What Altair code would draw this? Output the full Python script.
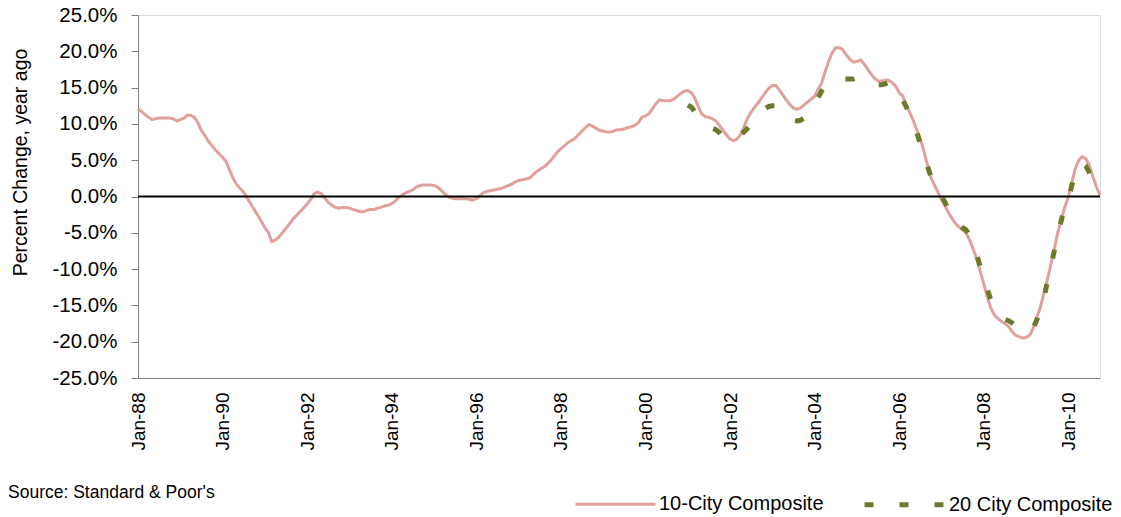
import altair as alt
import pandas as pd

# 10-City Composite, year-over-year % change, monthly Jan-1988 .. Oct-2010
city10 = [
    12.1, 11.7, 11.3, 10.9, 10.6, 10.7, 10.8, 10.8, 10.8, 10.8, 10.7, 10.4,   # 1988
    10.6, 10.8, 11.2, 11.2, 10.9, 10.2, 9.1, 8.4, 7.6, 7.0, 6.4, 5.9,         # 1989
    5.4, 4.8, 3.7, 2.5, 1.7, 1.1, 0.6, -0.2, -1.0, -1.8, -2.6, -3.4,          # 1990
    -4.3, -5.0, -6.2, -6.0, -5.6, -5.0, -4.4, -3.8, -3.1, -2.6, -2.1, -1.6,   # 1991
    -1.0, -0.4, 0.4, 0.6, 0.4, -0.2, -0.8, -1.2, -1.5, -1.6, -1.5, -1.5,      # 1992
    -1.6, -1.8, -1.9, -2.1, -2.1, -1.9, -1.8, -1.8, -1.6, -1.5, -1.3, -1.2,   # 1993
    -1.0, -0.6, -0.1, 0.2, 0.5, 0.7, 0.9, 1.3, 1.5, 1.6, 1.6, 1.6,            # 1994
    1.5, 1.3, 0.9, 0.4, 0.0, -0.2, -0.3, -0.3, -0.3, -0.3, -0.4, -0.5,        # 1995
    -0.3, 0.1, 0.5, 0.7, 0.8, 0.9, 1.0, 1.1, 1.3, 1.5, 1.7, 2.0,              # 1996
    2.2, 2.3, 2.4, 2.5, 2.9, 3.4, 3.7, 4.0, 4.4, 4.9, 5.5, 6.1,               # 1997
    6.6, 7.0, 7.4, 7.7, 8.0, 8.5, 9.0, 9.5, 9.9, 9.7, 9.4, 9.1,               # 1998
    9.0, 8.9, 8.9, 9.0, 9.2, 9.2, 9.3, 9.5, 9.6, 9.8, 10.2, 10.9,             # 1999
    11.1, 11.4, 12.1, 12.8, 13.3, 13.2, 13.2, 13.2, 13.4, 13.8, 14.2, 14.5,   # 2000
    14.6, 14.3, 13.6, 12.4, 11.4, 11.0, 10.9, 10.7, 10.4, 9.8, 9.1, 8.5,      # 2001
    7.9, 7.7, 7.9, 8.5, 9.6, 10.8, 11.6, 12.3, 12.9, 13.6, 14.3, 14.9,        # 2002
    15.3, 15.3, 14.7, 14.0, 13.3, 12.7, 12.2, 12.0, 12.2, 12.6, 13.0, 13.4,   # 2003
    13.8, 14.8, 15.6, 17.2, 18.6, 19.8, 20.5, 20.5, 20.2, 19.5, 18.9, 18.5,   # 2004
    18.6, 18.8, 18.3, 17.6, 16.9, 16.3, 15.9, 15.9, 16.0, 16.0, 15.7, 15.2,   # 2005
    14.3, 13.8, 12.6, 11.6, 10.5, 9.2, 8.0, 6.3, 4.4, 2.6, 1.6, 0.6,          # 2006
    -0.4, -1.3, -2.2, -3.0, -3.7, -4.2, -4.6, -5.0, -6.0, -7.2, -8.6, -10.3,  # 2007
    -12.0, -13.9, -15.3, -16.3, -16.8, -17.2, -17.5, -17.9, -18.6, -19.1, -19.3, -19.5,  # 2008
    -19.4, -19.1, -18.2, -16.8, -15.4, -13.5, -11.6, -9.5, -7.3, -5.0, -3.1, -1.5,       # 2009
    0.0, 2.0, 3.8, 5.0, 5.5, 5.2, 4.3, 2.7, 1.3, 0.2,                         # 2010
]

# 20 City Composite, monthly Jan-2001 .. Oct-2010
city20 = [
    12.6, 12.3, 11.7, 11.2, 10.6, 10.1, 9.7, 9.4, 9.2, 8.8, 8.2, 7.9,         # 2001
    7.8, 7.8, 8.1, 8.5, 8.9, 9.4, 10.0, 10.6, 11.2, 11.7, 12.1, 12.4,         # 2002
    12.5, 12.5, 12.2, 11.7, 11.2, 10.8, 10.5, 10.4, 10.5, 10.8, 11.3, 12.0,   # 2003
    12.8, 13.6, 14.5, 15.1, 15.5, 15.8, 16.0, 16.1, 16.2, 16.2, 16.2, 16.2,   # 2004
    16.4, 16.4, 16.2, 16.0, 15.8, 15.6, 15.4, 15.4, 15.5, 15.7, 15.6, 15.0,   # 2005
    14.1, 13.3, 12.4, 11.3, 10.1, 8.8, 7.3, 5.8, 4.2, 2.8, 1.6, 0.6,          # 2006
    0.0, -0.8, -1.8, -2.7, -3.4, -3.9, -4.3, -4.6, -5.4, -6.6, -8.0, -9.6,    # 2007
    -11.2, -12.8, -14.2, -15.3, -16.1, -16.6, -16.9, -17.1, -17.4, -17.8, -18.1, -18.4,  # 2008
    -18.6, -18.6, -18.2, -17.1, -15.8, -14.2, -11.9, -9.8, -7.5, -5.3, -3.3, -1.2,       # 2009
    -0.3, 1.6, 3.2, 4.2, 4.6, 4.2, 3.3, 2.1, 1.2, 0.5,                        # 2010
]

series_names = ["10-City Composite", "20 City Composite"]
start10 = "1988-01-01"
start20 = "2001-01-01"
tick_years = list(range(1988, 2011, 2))
y_ticks = [25, 20, 15, 10, 5, 0, -5, -10, -15, -20, -25]
source_text = "Source: Standard & Poor's"

d10 = pd.DataFrame({
    "date": pd.date_range(start10, periods=len(city10), freq="MS"),
    "value": city10,
    "series": series_names[0],
})
d20 = pd.DataFrame({
    "date": pd.date_range(start20, periods=len(city20), freq="MS"),
    "value": city20,
    "series": series_names[1],
})
df = pd.concat([d10, d20], ignore_index=True)
df["date"] = df["date"].dt.strftime("%Y-%m-%d")

FONT = "Arial, Liberation Sans"
tick_vals = [alt.DateTime(year=y, month=1, date=1) for y in tick_years]
y_scale = alt.Scale(domain=[-25, 25], nice=False)

x_enc = alt.X(
    "date:T",
    scale=alt.Scale(domain=[alt.DateTime(year=1988, month=1, date=1),
                            alt.DateTime(year=2010, month=10, date=1)], nice=False),
    axis=alt.Axis(values=tick_vals, format="%b-%y", labelAngle=270, title=None,
                  grid=False, ticks=False, domainColor="#808080", labelFontSize=19,
                  labelPadding=14, labelColor="#000000", labelFont=FONT,
                  labelOverlap=False),
)
y_axis = alt.Axis(values=y_ticks,
                  labelExpr="(datum.value < 0 ? '-' : '') + format(abs(datum.value), '.1f') + '%'",
                  title="Percent Change, year ago", grid=False, ticks=True, tickSize=7,
                  tickColor="#808080", domainColor="#808080", labelFontSize=20.5,
                  labelPadding=14, labelColor="#000000", labelFont=FONT,
                  labelOverlap=False, labelFlush=False, labelSeparation=0,
                  titleFont=FONT, titleFontSize=19.5, titleFontWeight="normal",
                  titleColor="#000000", titleX=-118, titleY=147, titleAngle=270,
                  titleAlign="center", titleBaseline="middle")
y_enc = alt.Y("value:Q", scale=y_scale, axis=y_axis)

legend = alt.Legend(
    title=None, orient="none", legendX=436, legendY=447, direction="horizontal",
    symbolType="stroke", symbolSize=6400, labelFontSize=20, labelFont=FONT,
    labelColor="#000000", labelOffset=2, columnPadding=30, labelLimit=400,
)

lines = alt.Chart(df).mark_line(strokeCap="butt").encode(
    x=x_enc,
    y=y_enc,
    color=alt.Color("series:N", scale=alt.Scale(domain=series_names,
                                                range=["#E2A09D", "#6E7A2B"]),
                    legend=legend),
    strokeDash=alt.StrokeDash("series:N", scale=alt.Scale(domain=series_names,
                                                          range=[[1, 0], [9, 26]]),
                              legend=legend),
    strokeWidth=alt.StrokeWidth("series:N", scale=alt.Scale(domain=series_names,
                                                            range=[3, 5]),
                                legend=legend),
    order=alt.Order("date:T"),
)

zero = alt.Chart(pd.DataFrame({"value": [0]})).mark_rule(
    color="#000000", strokeWidth=2
).encode(y=y_enc)

source = alt.Chart(pd.DataFrame({"t": [source_text]})).mark_text(
    align="left", baseline="middle", font=FONT, fontSize=17.5, color="#000000"
).encode(text="t:N", x=alt.value(-130), y=alt.value(478))

chart = alt.layer(lines, zero, source).properties(
    width=962, height=363,
    autosize=alt.AutoSizeParams(type="none"),
    padding={"left": 130, "top": 7, "right": 13, "bottom": 139},
).configure_view(
    stroke="#A6A6A6", strokeWidth=1
).configure(background="#ffffff")

chart.save("out.html", embed_options={"renderer": "svg", "actions": False})
